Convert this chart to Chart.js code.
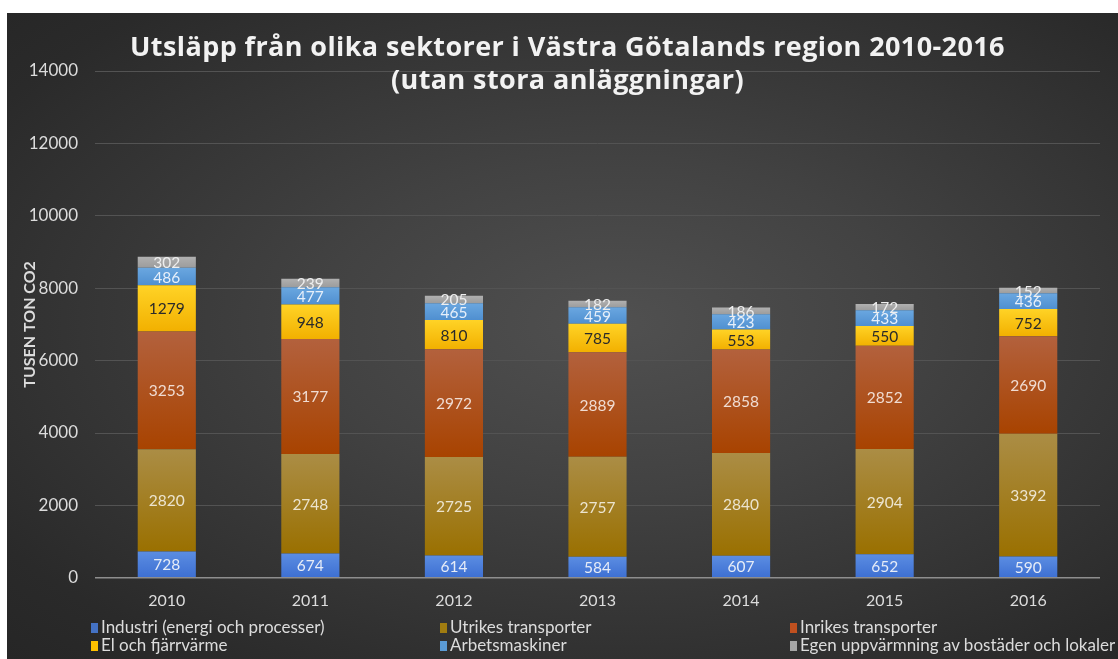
<!DOCTYPE html>
<html>
<head>
<meta charset="utf-8">
<script src="https://cdn.jsdelivr.net/npm/chart.js@4.4.0/dist/chart.umd.min.js"></script>
<style>
    html, body { margin: 0; padding: 0; background: #fff; }
    #panel {
        position: absolute; left: 7px; top: 13px; width: 1111px; height: 646px;
        background: radial-gradient(ellipse at 55% 48%, #505050 0%, #424242 35%, #2a2a2a 85%, #262626 100%);
        overflow: hidden;
    }
    #emissionsChart { position: absolute; left: 0; top: 0; }
    #chartTitle {
        position: absolute; left: 10px; right: 0; top: 16px;
        text-align: center; color: #f2f2f2;
        font: bold 27px/33px "Open Sans", sans-serif;
        letter-spacing: 0.4px;
        pointer-events: none;
    }
    #legend {
        position: absolute; left: 0; top: 600px; width: 100%; height: 44px;
        font: 17px/18px Lato, sans-serif; color: #dcdcdc;
    }
    .item { position: absolute; white-space: nowrap; }
    .item span.box { display: inline-block; width: 7px; height: 10px; margin-right: 3px; vertical-align: 0px; }
</style>
</head>
<body>
<div id="panel">
    <canvas id="emissionsChart" width="1111" height="646"></canvas>
    <div id="chartTitle">Utsläpp från olika sektorer i Västra Götalands region 2010-2016<br>(utan stora anläggningar)</div>
    <div id="legend"></div>
</div>
<script>
const years = ['2010', '2011', '2012', '2013', '2014', '2015', '2016'];

const industri = [728, 674, 614, 584, 607, 652, 590];
const utrikes = [2820, 2748, 2725, 2757, 2840, 2904, 3392];
const inrikes = [3253, 3177, 2972, 2889, 2858, 2852, 2690];
const elFjarrvarme = [1279, 948, 810, 785, 553, 550, 752];
const arbetsmaskiner = [486, 477, 465, 459, 423, 433, 436];
const egenUppvarmning = [302, 239, 205, 182, 186, 172, 152];

const yTicks = [0, 2000, 4000, 6000, 8000, 10000, 12000, 14000];

const seriesNames = [
    'Industri (energi och processer)',
    'Utrikes transporter',
    'Inrikes transporter',
    'El och fjärrvärme',
    'Arbetsmaskiner',
    'Egen uppvärmning av bostäder och lokaler'
];
const seriesData = [industri, utrikes, inrikes, elFjarrvarme, arbetsmaskiner, egenUppvarmning];

// top colour / bottom colour of each segment gradient, plus legend swatch and label colour
const topColors = ['#5b8de2', '#ab8d45', '#b3613d', '#ffd326', '#6aa7e0', '#b0b0b0'];
const bottomColors = ['#3d6fd2', '#9a7000', '#a84300', '#f2b000', '#4f8fd0', '#9c9c9c'];
const swatchColors = ['#4472c4', '#a07c10', '#c0501f', '#ffc000', '#5b9bd5', '#a5a5a5'];
const labelColors = ['#e6ecf7', '#ece4cf', '#f0dcd2', '#2a2a2a', '#e6effa', '#eeeeee'];

// stacked start value for dataset ds at index i
function stackStart(ds, i) {
    let sum = 0;
    for (let k = 0; k < ds; k++) sum += seriesData[k][i];
    return sum;
}

function segmentGradient(context) {
    const chart = context.chart;
    const yScale = chart.scales.y;
    const ds = context.datasetIndex;
    if (!yScale || context.type !== 'data') return swatchColors[ds];
    const i = context.dataIndex;
    const start = stackStart(ds, i);
    const top = yScale.getPixelForValue(start + seriesData[ds][i]);
    const bottom = yScale.getPixelForValue(start);
    if (!isFinite(top) || !isFinite(bottom) || top === bottom) return swatchColors[ds];
    const g = chart.ctx.createLinearGradient(0, top, 0, bottom);
    g.addColorStop(0, topColors[ds]);
    g.addColorStop(1, bottomColors[ds]);
    return g;
}

const segmentLabels = {
    id: 'segmentLabels',
    afterDatasetsDraw(chart) {
        const ctx = chart.ctx;
        ctx.save();
        ctx.font = '15.5px Lato, sans-serif';
        ctx.textAlign = 'center';
        ctx.textBaseline = 'middle';
        chart.data.datasets.forEach((dataset, ds) => {
            const meta = chart.getDatasetMeta(ds);
            ctx.fillStyle = labelColors[ds];
            meta.data.forEach((bar, i) => {
                const y = (bar.y + bar.base) / 2;
                ctx.fillText(String(dataset.data[i]), bar.x, y + 1);
            });
        });
        ctx.restore();
    }
};

const datasets = seriesNames.map((name, ds) => ({
    label: name,
    data: seriesData[ds],
    backgroundColor: segmentGradient,
    borderWidth: 0,
    categoryPercentage: 1,
    barPercentage: 0.405
}));

// legend in three fixed columns, two rows
const legendCols = [84, 433, 783];
const legendRows = [5, 23];
const legendEl = document.getElementById('legend');
seriesNames.forEach((name, ds) => {
    const item = document.createElement('div');
    item.className = 'item';
    item.style.left = legendCols[ds % 3] + 'px';
    item.style.top = legendRows[Math.floor(ds / 3)] + 'px';
    const box = document.createElement('span');
    box.className = 'box';
    box.style.background = swatchColors[ds];
    item.appendChild(box);
    item.appendChild(document.createTextNode(name));
    legendEl.appendChild(item);
});

new Chart(document.getElementById('emissionsChart'), {
    type: 'bar',
    data: { labels: years, datasets: datasets },
    options: {
        responsive: false,
        animation: false,
        layout: { padding: { left: 13, right: 18, top: 58, bottom: 44 } },
        plugins: {
            legend: { display: false },
            title: { display: false },
            tooltip: { enabled: false }
        },
        scales: {
            x: {
                stacked: true,
                grid: { display: false },
                border: { display: false },
                ticks: {
                    color: '#dcdcdc',
                    font: { family: 'Lato', size: 16 },
                    padding: 5
                }
            },
            y: {
                stacked: true,
                min: 0,
                max: 14000,
                afterBuildTicks: (scale) => { scale.ticks = yTicks.map(v => ({ value: v })); },
                afterFit: (scale) => { scale.width = 75; },
                grid: {
                    color: (c) => c.tick && c.tick.value === 0 ? '#8e8e8e' : '#535353',
                    lineWidth: (c) => c.tick && c.tick.value === 0 ? 1.5 : 1,
                    drawTicks: false
                },
                border: { display: false },
                ticks: {
                    color: '#dcdcdc',
                    font: { family: 'Lato', size: 17 },
                    padding: 17,
                    callback: (value) => String(value)
                },
                title: {
                    display: true,
                    text: 'TUSEN TON CO2',
                    color: '#dcdcdc',
                    font: { family: 'Lato', size: 16, weight: 'bold' },
                    padding: { top: 0, bottom: 2 }
                }
            }
        }
    },
    plugins: [segmentLabels]
});
</script>
</body>
</html>
